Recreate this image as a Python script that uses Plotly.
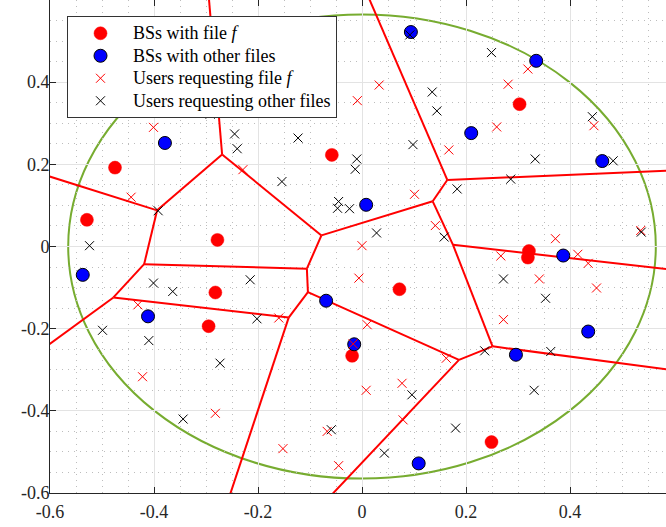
import plotly.graph_objects as go

# ---- data ----
bs_f_x = [-0.475, -0.529, -0.278, -0.058, 0.303, -0.282, -0.295, 0.072, -0.019, 0.321, 0.319, 0.249]
bs_f_y = [0.192, 0.065, 0.016, 0.223, 0.3465, -0.112, -0.194, -0.104, -0.266, -0.011, -0.027, -0.476]

bs_o_x = [-0.379, 0.094, 0.008, 0.335, 0.210, 0.462, 0.387, 0.435, 0.296, -0.069, -0.015, 0.109, -0.537, -0.4115]
bs_o_y = [0.252, 0.522, 0.1015, 0.452, 0.276, 0.208, -0.022, -0.207, -0.2635, -0.132, -0.238, -0.528, -0.069, -0.170]

us_f_x = [-0.401, -0.444, 0.033, -0.009, -0.229, 0.101, 0.141, 0.0, 0.319, 0.281, 0.259, 0.167,
          0.446, 0.536, 0.372, 0.267, 0.415, 0.435, 0.341, 0.451, 0.272, 0.162, -0.006, -0.160,
          0.010, -0.017, 0.008, 0.077, 0.079, -0.067, -0.152, -0.045, -0.431, -0.422, -0.282]
us_f_y = [0.290, 0.120, 0.393, 0.355, 0.187, 0.127, 0.051, 0.002, 0.432, 0.395, 0.291, 0.235,
          0.294, 0.039, 0.019, -0.023, -0.019, -0.041, -0.079, -0.101, -0.178, -0.272, -0.077, -0.174,
          -0.1905, -0.237, -0.350, -0.333, -0.422, -0.450, -0.492, -0.5335, -0.142, -0.317, -0.406]

us_o_x = [-0.392, -0.292, -0.524, 0.092, 0.135, 0.144, -0.245, -0.240, -0.123, 0.098, -0.010, -0.013,
          -0.154, -0.045, -0.047, -0.024, 0.028, 0.158, 0.249, 0.443, 0.333, 0.483, 0.286, 0.183,
          0.537, 0.272, 0.353, 0.236, 0.363, 0.331, 0.180, -0.215, -0.202, -0.273, 0.096, -0.059,
          0.043, -0.401, -0.364, -0.499, -0.410, -0.344]
us_o_y = [0.087, 0.322, 0.002, 0.515, 0.376, 0.330, 0.274, 0.238, 0.264, 0.248, 0.213, 0.188,
          0.158, 0.1095, 0.093, 0.092, 0.033, 0.023, 0.472, 0.316, 0.213, 0.2085, 0.164, 0.140,
          0.035, -0.079, -0.126, -0.254, -0.2555, -0.350, -0.442, -0.081, -0.176, -0.284, -0.361, -0.446,
          -0.503, -0.089, -0.1095, -0.204, -0.229, -0.420]

# Voronoi edges (cells of BSs with file f): start/end points
edge_x0 = [-0.62, -0.394, -0.269, -0.394, -0.419, -0.478, -0.419, -0.478, -0.106, -0.104, -0.141, -0.106,
           -0.078, -0.078, 0.136, 0.164, 0.164, 0.136, 0.175, 0.175, 0.251, 0.251, 0.1865, 0.1865]
edge_y0 = [0.178, 0.088, 0.224, 0.088, -0.043, -0.124, -0.043, -0.124, -0.054, -0.111, -0.173, -0.054,
           0.027, 0.027, 0.110, 0.162, 0.162, 0.110, 0.004, 0.004, -0.243, -0.243, -0.276, -0.276]
edge_x1 = [-0.394, -0.269, -0.2955, -0.419, -0.478, -0.62, -0.106, -0.141, -0.104, -0.141, -0.258, -0.078,
           -0.269, 0.136, 0.164, 0.008, 0.62, 0.175, 0.62, 0.251, 0.62, 0.1865, -0.104, -0.07]
edge_y1 = [0.088, 0.224, 0.62, -0.043, -0.124, -0.255, -0.054, -0.173, -0.111, -0.173, -0.62, 0.027,
           0.224, 0.110, 0.162, 0.62, 0.186, 0.004, -0.060, -0.243, -0.305, -0.276, -0.111, -0.62]

circle_cx, circle_cy, circle_r = 0.0, 0.0, 0.565

x_tick_vals = [-0.6, -0.4, -0.2, 0.0, 0.2, 0.4]
x_tick_text = ["-0.6", "-0.4", "-0.2", "0", "0.2", "0.4"]
y_tick_vals = [-0.6, -0.4, -0.2, 0.0, 0.2, 0.4]
y_tick_text = ["-0.6", "-0.4", "-0.2", "0", "0.2", "0.4"]

legend_names = ["BSs with file <i>f</i>", "BSs with other files",
                "Users requesting file <i>f</i>", "Users requesting other files"]

vx, vy = [], []
for a, b, c, d in zip(edge_x0, edge_y0, edge_x1, edge_y1):
    vx += [a, c, None]
    vy += [b, d, None]


def big(t):
    return '<span style="font-size:18px">' + t + '</span>'


FONT = "Liberation Serif"
fig = go.Figure()
fig.add_shape(type="circle", xref="x", yref="y",
              x0=circle_cx - circle_r, x1=circle_cx + circle_r,
              y0=circle_cy - circle_r, y1=circle_cy + circle_r,
              line=dict(color="#77AC30", width=2), layer="below")
fig.add_trace(go.Scatter(x=vx, y=vy, mode="lines", line=dict(color="#FF0000", width=2),
                         showlegend=False, hoverinfo="skip"))
fig.add_trace(go.Scatter(x=bs_f_x, y=bs_f_y, mode="markers", name=big(legend_names[0]),
                         marker=dict(symbol="circle", size=13, color="#FF0000",
                                     line=dict(color="#FF0000", width=0.5))))
fig.add_trace(go.Scatter(x=bs_o_x, y=bs_o_y, mode="markers", name=big(legend_names[1]),
                         marker=dict(symbol="circle", size=13, color="#0000FF",
                                     line=dict(color="#000000", width=1))))
fig.add_trace(go.Scatter(x=us_f_x, y=us_f_y, mode="markers", name=big(legend_names[2]),
                         marker=dict(symbol="x-thin", size=9, color="#FF0000",
                                     line=dict(color="#FF0000", width=1))))
fig.add_trace(go.Scatter(x=us_o_x, y=us_o_y, mode="markers", name=big(legend_names[3]),
                         marker=dict(symbol="x-thin", size=9, color="#000000",
                                     line=dict(color="#000000", width=1))))

axis_common = dict(
    automargin=False,
    showgrid=True, gridcolor="#E3E3E3", gridwidth=1,
    zeroline=False, showline=True, linecolor="#262626", linewidth=1,
    ticks="inside", ticklen=6, tickcolor="#262626",
    tickfont=dict(family=FONT, size=18, color="#262626"),
    minor=dict(dtick=0.05, tick0=0, showgrid=True, gridcolor="#BDBDBD",
               griddash="1px,5px", gridwidth=1),
)
fig.update_xaxes(range=[-0.6, 0.5846], mirror="ticks", ticklabelstandoff=2,
                 tickmode="array", tickvals=x_tick_vals, ticktext=x_tick_text, **axis_common)
fig.update_yaxes(range=[-0.6, 0.6], mirror=False, ticklabelstandoff=-4,
                 tickmode="array", tickvals=y_tick_vals, ticktext=y_tick_text, **axis_common)

fig.update_layout(
    width=666, height=527,
    margin=dict(l=50, r=0, t=0, b=34),
    plot_bgcolor="white", paper_bgcolor="white",
    font=dict(family=FONT, size=18, color="#000000"),
    legend=dict(x=0.0276, y=0.9675, xanchor="left", yanchor="top",
                bgcolor="white", bordercolor="#333333", borderwidth=1,
                font=dict(family=FONT, size=15, color="#000000"),
                tracegroupgap=0, itemwidth=55),
)
fig.write_html("out.html", config={"displayModeBar": False},
               post_script="document.body.style.margin='0';document.body.style.overflow='hidden';")
